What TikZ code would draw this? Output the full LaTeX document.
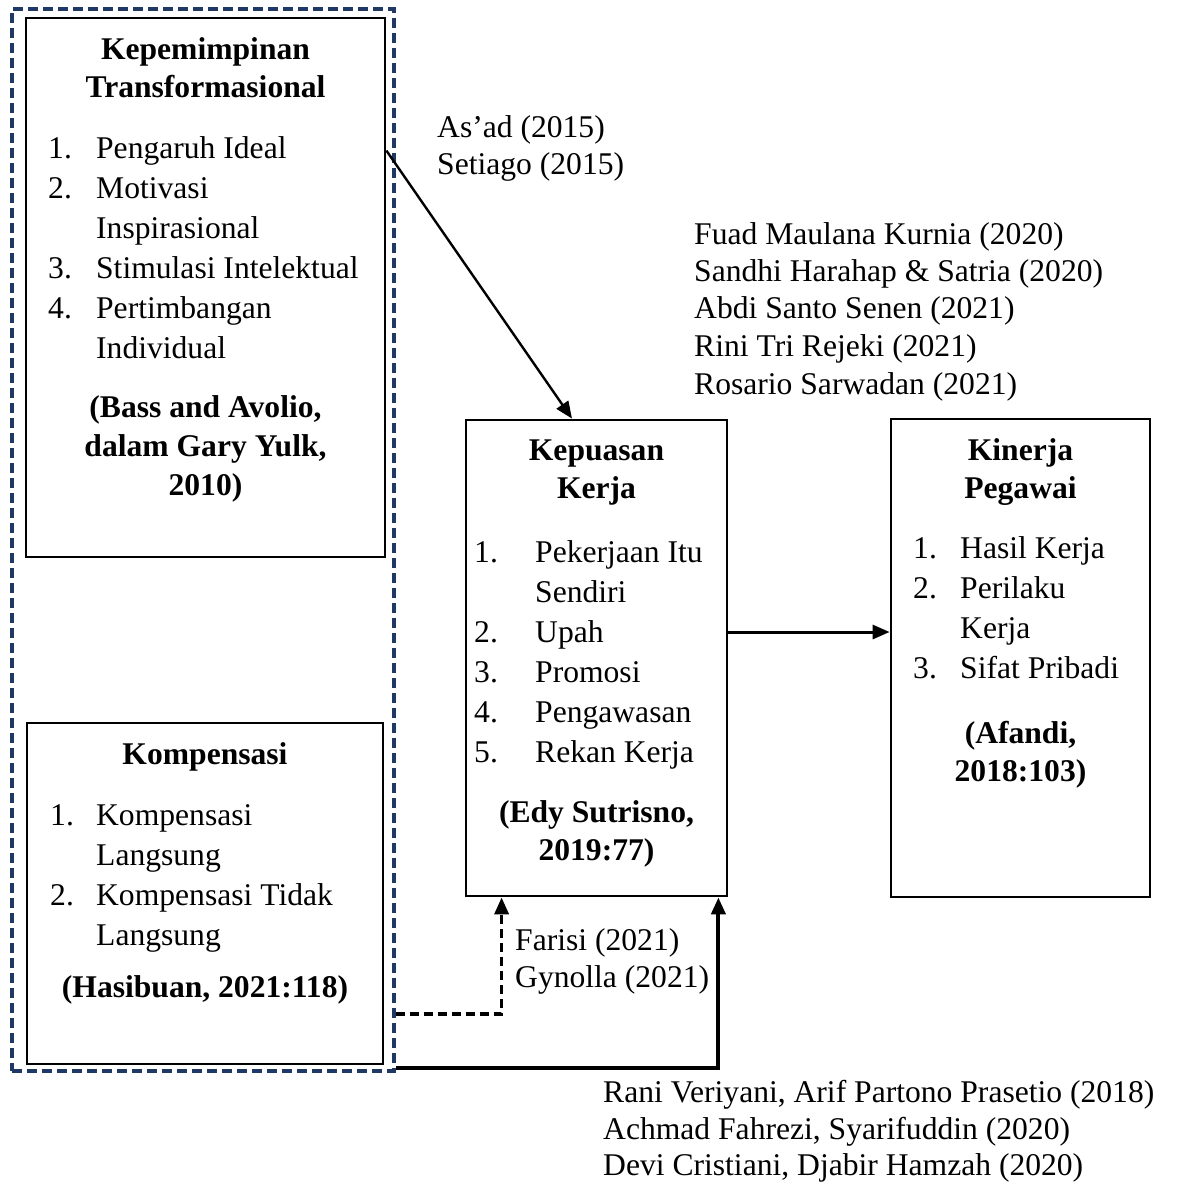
\documentclass[tikz,border=0pt]{standalone}
\usepackage{fontspec}
\setmainfont{Liberation Serif}
\usetikzlibrary{arrows.meta,calc}
\definecolor{navy}{HTML}{1F3864}
\newcommand\nb[2]{\makebox[#1][l]{#2}}
\begin{document}
\begin{tikzpicture}[x=1pt,y=-1pt,
 box/.style={draw=black,line width=2.8pt,rectangle,inner sep=0pt},
 frm/.style={draw=navy,line width=3.4pt,dash pattern=on 10pt off 5pt,rectangle,inner sep=0pt},
 txt/.style={font=\fontsize{31.6pt}{40pt}\selectfont,inner sep=0pt,anchor=base west},
 hd/.style={font=\fontsize{31.6pt}{40pt}\selectfont\bfseries,inner sep=0pt,anchor=base},
 arr/.style={line width=2.4pt,-{Triangle[length=17pt,width=14pt]}},
]
\useasboundingbox (0,0) rectangle (1182,1184);
\fill[white] (0,0) rectangle (1182,1184);

% boxes
\node[box,minimum width=359pt,minimum height=539pt] (kt) at (205.5,287.5) {};
\node[box,minimum width=356pt,minimum height=341pt] (komp) at (205,893.5) {};
\node[box,minimum width=261pt,minimum height=476pt] (kep) at (596.5,658) {};
\node[box,minimum width=259pt,minimum height=478pt] (kin) at (1020.5,658) {};
\node[frm,minimum width=382pt,minimum height=1062pt] (frame) at (203,540) {};

% Kepemimpinan Transformasional
\node[hd] (kt1) at (205.5,59) {Kepemimpinan};
\node[hd] (kt2) at (205.5,97) {Transformasional};
\node[txt] (kt3) at (48,158) {\nb{48pt}{1.}Pengaruh Ideal};
\node[txt] (kt4) at (48,198) {\nb{48pt}{2.}Motivasi};
\node[txt] (kt5) at (96,238) {Inspirasional};
\node[txt] (kt6) at (48,278) {\nb{48pt}{3.}Stimulasi Intelektual};
\node[txt] (kt7) at (48,318) {\nb{48pt}{4.}Pertimbangan};
\node[txt] (kt8) at (96,358) {Individual};
\node[hd] (kt9) at (205.5,417) {(Bass and Avolio,};
\node[hd] (kt10) at (205.5,456) {dalam Gary Yulk,};
\node[hd] (kt11) at (205.5,495) {2010)};

% Kompensasi
\node[hd] (kp1) at (205,764) {Kompensasi};
\node[txt] (kp2) at (50,825) {\nb{46pt}{1.}Kompensasi};
\node[txt] (kp3) at (96,865) {Langsung};
\node[txt] (kp4) at (50,905) {\nb{46pt}{2.}Kompensasi Tidak};
\node[txt] (kp5) at (96,945) {Langsung};
\node[hd] (kp6) at (205,997) {(Hasibuan, 2021:118)};

% Kepuasan Kerja
\node[hd] (kk1) at (596.5,460) {Kepuasan};
\node[hd] (kk2) at (596.5,498) {Kerja};
\node[txt] (kk3) at (474,562) {\nb{61pt}{1.}Pekerjaan Itu};
\node[txt] (kk4) at (535,602) {Sendiri};
\node[txt] (kk5) at (474,642) {\nb{61pt}{2.}Upah};
\node[txt] (kk6) at (474,682) {\nb{61pt}{3.}Promosi};
\node[txt] (kk7) at (474,722) {\nb{61pt}{4.}Pengawasan};
\node[txt] (kk8) at (474,762) {\nb{61pt}{5.}Rekan Kerja};
\node[hd] (kk9) at (596.5,822) {(Edy Sutrisno,};
\node[hd] (kk10) at (596.5,860) {2019:77)};

% Kinerja Pegawai
\node[hd] (kn1) at (1020.5,460) {Kinerja};
\node[hd] (kn2) at (1020.5,498) {Pegawai};
\node[txt] (kn3) at (913,558) {\nb{47pt}{1.}Hasil Kerja};
\node[txt] (kn4) at (913,598) {\nb{47pt}{2.}Perilaku};
\node[txt] (kn5) at (960,638) {Kerja};
\node[txt] (kn6) at (913,678) {\nb{47pt}{3.}Sifat Pribadi};
\node[hd] (kn7) at (1020.5,743) {(Afandi,};
\node[hd] (kn8) at (1020.5,781) {2018:103)};

% reference labels
\node[txt] (la1) at (437,137) {As’ad (2015)};
\node[txt] (la2) at (437,174) {Setiago (2015)};
\node[txt] (lb1) at (694,244) {Fuad Maulana Kurnia (2020)};
\node[txt] (lb2) at (694,281) {Sandhi Harahap \& Satria (2020)};
\node[txt] (lb3) at (694,318) {Abdi Santo Senen (2021)};
\node[txt] (lb4) at (694,356) {Rini Tri Rejeki (2021)};
\node[txt] (lb5) at (694,394) {Rosario Sarwadan (2021)};
\node[txt] (lc1) at (515,950) {Farisi (2021)};
\node[txt] (lc2) at (515,987) {Gynolla (2021)};
\node[txt] (ld1) at (603,1102) {Rani Veriyani, Arif Partono Prasetio (2018)};
\node[txt] (ld2) at (603,1139) {Achmad Fahrezi, Syarifuddin (2020)};
\node[txt] (ld3) at (603,1175) {Devi Cristiani, Djabir Hamzah (2020)};

% connectors
\draw[arr] ([yshift=-134pt]kt.north east) -- ([xshift=-24.5pt]kep.north);
\draw[arr,line width=3pt] ([yshift=26pt]kep.east) -- ([yshift=26pt]kin.west);
\draw[arr,line width=3.6pt,dash pattern=on 9pt off 5pt] ([yshift=59pt]frame.south east) -| ([xshift=37pt]kep.south west);
\draw[arr,line width=4pt] ([yshift=5pt]frame.south east) -| ([xshift=-10pt]kep.south east);
\end{tikzpicture}
\end{document}
